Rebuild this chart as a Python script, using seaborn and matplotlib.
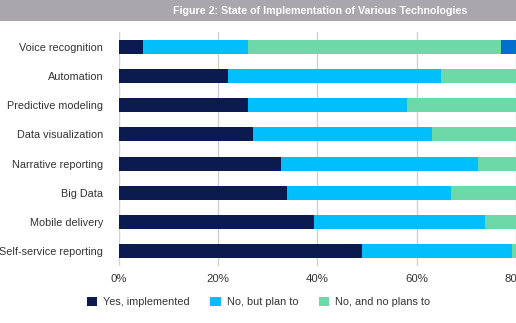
import numpy as np
import pandas as pd
import matplotlib
matplotlib.use("Agg")
import matplotlib.pyplot as plt
import seaborn as sns
from matplotlib.patches import Patch

categories = ["Voice recognition", "Automation", "Predictive modeling", "Data visualization",
              "Narrative reporting", "Big Data", "Mobile delivery", "Self-service reporting"]
yes_implemented = [5, 22, 26, 27, 32.7, 34, 39.4, 49]
no_plan_to = [21, 43, 32, 36, 39.6, 33, 34.4, 30.1]
no_no_plans = [51, 35, 42, 37, 27.7, 33, 26.2, 20.9]
other = [23, 0, 0, 0, 0, 0, 0, 0]
series_names = ["Yes, implemented", "No, but plan to", "No, and no plans to"]
xticks = [0, 20, 40, 60, 80]
title = "Figure 2: State of Implementation of Various Technologies"

colors = ["#0b1a4f", "#00bffa", "#6dd8a8", "#0070cc"]

sns.set_theme(style="white")
plt.rcParams["font.family"] = ["Liberation Sans", "DejaVu Sans"]

W, H = 516, 323
fig = plt.figure(figsize=(W / 100, H / 100), dpi=100)
ax = fig.add_axes([118.5 / W, 1 - 266 / H, (W - 118.5) / W, (266 - 32) / H])

df = pd.DataFrame({"cat": categories, "a": yes_implemented, "b": no_plan_to,
                   "c": no_no_plans, "d": other})
df["c1"] = df["a"]
df["c2"] = df["c1"] + df["b"]
df["c3"] = df["c2"] + df["c"]
df["c4"] = df["c3"] + df["d"]

for col, colr in zip(["c4", "c3", "c2", "c1"], colors[::-1]):
    sns.barplot(data=df, x=col, y="cat", color=colr, orient="h", width=0.48,
                ax=ax, saturation=1, edgecolor="none", zorder=3)

ax.set_xlim(0, (W - 118.5) / 5)
ax.set_ylim(7.5, -0.5)
ax.set_xticks(xticks)
ax.set_xticklabels([f"{t}%" for t in xticks])
ax.set_xlabel("")
ax.set_ylabel("")
for s in ax.spines.values():
    s.set_visible(False)
ax.grid(axis="x", color="#d0d0d0", linewidth=1, zorder=0)
ax.set_axisbelow(True)
ax.tick_params(axis="y", length=0, pad=11, labelsize=7.8, labelcolor="#333333")
ax.tick_params(axis="x", length=0, pad=5.5, labelsize=8.2, labelcolor="#333333")

# title bar
fig.patches.append(plt.Rectangle((0, 1 - 21 / H), 1, 21 / H, transform=fig.transFigure,
                                 facecolor="#a9a7ab", edgecolor="none", zorder=0))
fig.text(320 / W, 1 - 10.5 / H, title, ha="center", va="center", color="white",
         fontsize=7.7, fontweight="bold")

handles = [Patch(facecolor=c, edgecolor="none") for c in colors[:3]]
fig.legend(handles, series_names, loc="center", bbox_to_anchor=(258.5 / W, 1 - 302 / H),
           ncol=3, frameon=False, fontsize=7.8, handlelength=0.93, handleheight=0.93,
           handletextpad=0.55, columnspacing=1.95, labelcolor="#333333",
           borderaxespad=0, borderpad=0)

fig.savefig("out.png", dpi=100)
